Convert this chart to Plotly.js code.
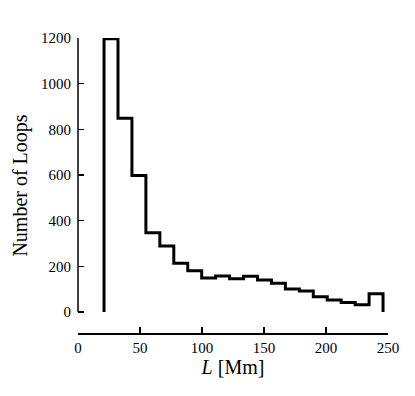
<!DOCTYPE html>
<html>
<head>
<meta charset="utf-8">
<script src="https://cdn.plot.ly/plotly-3.0.1.min.js"></script>
<style>
  html, body { margin: 0; padding: 0; background: #fff; }
  #loops-plot { width: 415px; height: 396px; }
</style>
</head>
<body>
<div id="loops-plot"></div>
<script>
// bin edges of the loop length histogram (Mm)
var binEdges = [21, 32.25, 43.5, 54.75, 66, 77.25, 88.5, 99.75, 111, 122.25, 133.5,
                144.75, 156, 167.25, 178.5, 189.75, 201, 212.25, 223.5, 234.75, 246];
// number of loops in each bin
var loopCounts = [1197, 848, 598, 347, 289, 213, 181, 149, 158, 146,
                  156, 140, 126, 101, 92, 67, 53, 42, 32, 80];

var xTicks = [0, 50, 100, 150, 200, 250];
var yTicks = [0, 200, 400, 600, 800, 1000, 1200];

function stepData(edges, counts) {
  // outline of a step histogram: up from zero, across each bin, back down to zero
  var x = [edges[0]], y = [0];
  for (var i = 0; i < counts.length; i++) {
    x.push(edges[i]);
    y.push(counts[i]);
  }
  x.push(edges[edges.length - 1]);
  y.push(0);
  return {
    x: x,
    y: y,
    mode: 'lines',
    line: { shape: 'hv', color: 'black', width: 3 },
    hoverinfo: 'skip'
  };
}

var serif = 'Liberation Serif, Times New Roman, serif';

var layout = {
  width: 415,
  height: 396,
  margin: { l: 78, r: 27, t: 38, b: 63 },
  paper_bgcolor: 'white',
  plot_bgcolor: 'white',
  showlegend: false,
  font: { family: serif, size: 15, color: 'black' },
  xaxis: {
    range: [0, 250],
    tickvals: xTicks,
    ticks: 'inside',
    ticklen: 6,
    tickwidth: 1.5,
    tickcolor: 'black',
    showline: true,
    linecolor: 'black',
    linewidth: 1.5,
    showgrid: false,
    zeroline: false,
    title: { text: '<i>L</i> [Mm]', font: { family: serif, size: 20 }, standoff: 4 }
  },
  yaxis: {
    range: [-92, 1200],
    tickvals: yTicks,
    ticks: 'inside',
    ticklen: 6,
    tickwidth: 1.5,
    tickcolor: 'black',
    ticklabelstandoff: 6,
    showline: false,
    showgrid: false,
    zeroline: false,
    title: { text: 'Number of Loops', font: { family: serif, size: 20 }, standoff: 8 }
  },
  shapes: [{
    type: 'line', xref: 'paper', yref: 'y',
    x0: 0, x1: 0, y0: 0, y1: 1200,
    line: { color: 'black', width: 1.5 }
  }]
};

Plotly.newPlot('loops-plot', [stepData(binEdges, loopCounts)], layout, { staticPlot: true });
</script>
</body>
</html>
